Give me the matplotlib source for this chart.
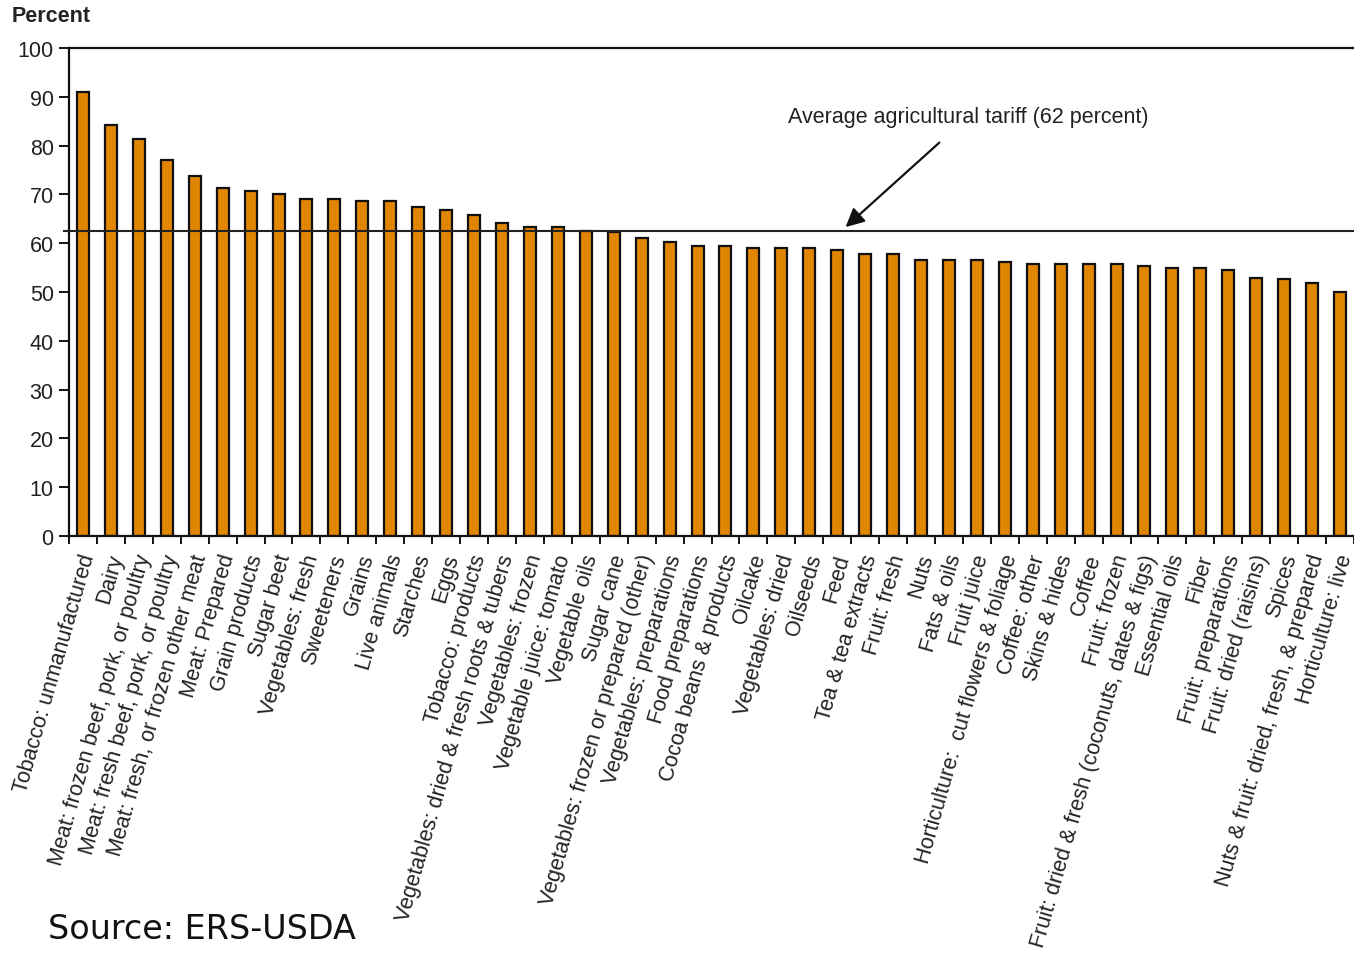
import matplotlib
matplotlib.use("Agg")
import matplotlib.pyplot as plt
import matplotlib.transforms as mtransforms
import numpy as np

categories = [
    "Tobacco: unmanufactured", "Dairy", "Meat: frozen beef, pork, or poultry",
    "Meat: fresh beef, pork, or poultry", "Meat: fresh, or frozen other meat",
    "Meat: Prepared", "Grain products", "Sugar beet", "Vegetables: fresh",
    "Sweeteners", "Grains", "Live animals", "Starches", "Eggs",
    "Tobacco: products", "Vegetables: dried & fresh roots & tubers",
    "Vegetables: frozen", "Vegetable juice: tomato", "Vegetable oils",
    "Sugar cane", "Vegetables: frozen or prepared (other)",
    "Vegetables: preparations", "Food preparations", "Cocoa beans & products",
    "Oilcake", "Vegetables: dried", "Oilseeds", "Feed", "Tea & tea extracts",
    "Fruit: fresh", "Nuts", "Fats & oils", "Fruit juice",
    "Horticulture:  cut flowers & foliage", "Coffee: other", "Skins & hides",
    "Coffee", "Fruit: frozen", "Fruit: dried & fresh (coconuts, dates & figs)",
    "Essential oils", "Fiber", "Fruit: preparations", "Fruit: dried (raisins)",
    "Spices", "Nuts & fruit: dried, fresh, & prepared", "Horticulture: live",
]

tariffs = [
    91.0, 84.2, 81.4, 77.0, 73.8, 71.4, 70.6, 70.1, 69.0, 69.0,
    68.6, 68.6, 67.4, 66.9, 65.8, 64.1, 63.3, 63.3, 62.5, 62.3,
    61.1, 60.2, 59.4, 59.4, 59.0, 59.0, 59.0, 58.6, 57.8, 57.8,
    56.6, 56.6, 56.6, 56.1, 55.8, 55.8, 55.8, 55.8, 55.4, 55.0,
    55.0, 54.6, 52.8, 52.6, 51.8, 49.9,
]

avg_tariff = 62.5
y_ticks = list(range(0, 101, 10))

W, H = 1354, 954
fig = plt.figure(figsize=(W / 100, H / 100), dpi=100)
fig.patch.set_facecolor("white")

ax = fig.add_axes([69 / W, 1 - 537 / H, (W - 69) / W, (537 - 49) / H])

x = np.arange(len(categories))
ax.bar(x, tariffs, width=0.43, color="#E08600", edgecolor="#111111",
       linewidth=1.6, zorder=2)

ax.set_xlim(-0.46, len(categories) - 1 + 0.39)
ax.set_ylim(0, 100)

# Average line across the plot
ax.axhline(avg_tariff, xmin=-0.004, color="#222222", linewidth=1.5,
           zorder=3, clip_on=False)

# Spines
ax.spines["right"].set_visible(False)
for side in ("left", "bottom", "top"):
    ax.spines[side].set_color("#111111")
    ax.spines[side].set_linewidth(1.6)

ax.set_yticks(y_ticks)
ax.set_yticklabels([str(v) for v in y_ticks], fontsize=15.5,
                   color="#222222", family="Liberation Sans")
ax.tick_params(axis="y", length=7, width=1.4, pad=4, color="#111111")

# Category boundaries carry tick marks; labels sit under the bars
ax.set_xticks(np.arange(len(categories) + 1) - 0.5, minor=False)
ax.set_xticklabels([])
ax.tick_params(axis="x", which="major", length=6, width=1.4, color="#111111")
ax.set_xticks(x, minor=True)
ax.set_xticklabels(categories, minor=True, rotation=74, ha="right",
                   va="top", rotation_mode="anchor", fontsize=15.5,
                   color="#222222", family="Liberation Sans")
ax.tick_params(axis="x", which="minor", length=0, pad=11)
shift = mtransforms.ScaledTranslation(-4 / 100, 0, fig.dpi_scale_trans)
for lbl in ax.get_xticklabels(minor=True):
    lbl.set_transform(lbl.get_transform() + shift)

fig.text(12 / W, 1 - 17 / H, "Percent", fontsize=15.5, fontweight="bold",
         color="#222222", family="Liberation Sans", va="center", ha="left")

ax.annotate(
    f"Average agricultural tariff ({avg_tariff:.0f} percent)",
    xy=(27.3, avg_tariff + 0.8), xycoords="data",
    xytext=(31.7, 86.0), textcoords="data",
    fontsize=15.5, color="#222222", family="Liberation Sans",
    ha="center", va="center",
    arrowprops=dict(arrowstyle="-|>", color="#111111", lw=1.6,
                    mutation_scale=28, shrinkA=14, shrinkB=0),
    zorder=4,
)

fig.text(48 / W, 1 - 930 / H, "Source: ERS-USDA", fontsize=24,
         color="#111111", family="DejaVu Sans", va="center", ha="left")

fig.savefig("out.png", dpi=100, facecolor="white")
